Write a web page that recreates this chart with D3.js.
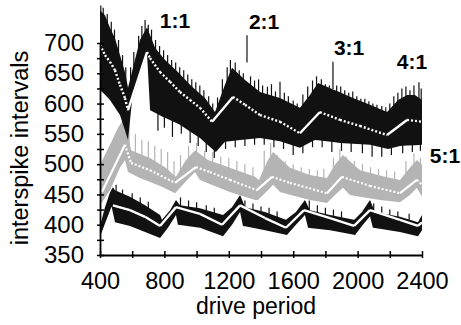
<!DOCTYPE html>
<html>
<head>
<meta charset="utf-8">
<script src="https://cdn.jsdelivr.net/npm/d3@7"></script>
<style>
  body { margin: 0; background: #fff; }
  text { font-family: Arial, "Liberation Sans", sans-serif; fill: #000; }
</style>
</head>
<body>
<div id="chart"></div>
<script>
// [drive period, interval] pairs
const topUpper = [[400,754],[431,746],[462,725],[493,708],[524,680],[555,652],[574,626],[617,672],[648,705],[692,726],[742,692],[804,672],[884,652],[959,631],[1052,609],[1114,586],[1176,631],[1220,659],[1301,639],[1394,619],[1518,609],[1642,593],[1704,614],[1754,634],[1860,622],[1971,609],[2077,598],[2183,586],[2251,606],[2307,614],[2356,614],[2400,606]];
const topLower = [[400,623],[462,606],[524,581],[555,556],[574,540],[599,605],[648,645],[692,683],[711,589],[791,578],[897,565],[1021,543],[1120,520],[1176,537],[1270,540],[1394,543],[1518,538],[1642,527],[1735,540],[1890,535],[2077,532],[2189,525],[2263,530],[2400,532]];
const topMid = [[400,697],[431,680],[462,669],[493,655],[524,631],[555,609],[574,589],[692,685],[711,675],[773,652],[835,636],[897,619],[959,606],[1021,593],[1096,570],[1226,611],[1301,598],[1394,581],[1518,570],[1642,551],[1766,586],[1890,573],[2015,563],[2183,548],[2307,573],[2400,570]];
const topSpikes = [[405,762],[420,758],[445,748],[470,735],[490,722],[515,705],[540,680],[560,660],[590,660],[610,685],[640,712],[660,728],[680,738],[700,730],[720,722],[745,705],[770,695],[795,688],[820,680],[845,672],[870,668],[895,660],[920,655],[945,648],[970,640],[995,635],[1020,630],[1045,622],[1075,612],[1100,600],[1130,610],[1160,640],[1190,660],[1210,672],[1240,668],[1265,655],[1290,650],[1313,713],[1335,645],[1360,638],[1385,640],[1410,630],[1440,628],[1465,632],[1490,620],[1518,636],[1545,618],[1570,612],[1600,605],[1625,600],[1660,615],[1690,628],[1720,638],[1745,645],[1775,640],[1800,632],[1825,630],[1847,669],[1870,630],[1895,628],[1920,622],[1945,618],[1970,620],[1995,612],[2020,608],[2045,608],[2070,604],[2095,600],[2120,598],[2150,596],[2175,594],[2200,600],[2225,612],[2250,618],[2275,625],[2300,628],[2325,622],[2350,630],[2381,635],[2395,625]];
const topDrops = [[760,555],[800,560],[850,545],[905,550],[960,535],[1010,530],[1060,520],[1110,510],[1180,525],[1240,528],[1300,530],[1360,532],[1420,532],[1480,528],[1540,525],[1600,515],[1660,518],[1720,528],[1780,528],[1840,520],[1900,522],[1960,520],[2030,518],[2090,512],[2150,512],[2210,515],[2280,518],[2340,520],[2390,522]];

const grayUpper = [[400,499],[462,532],[512,560],[543,573],[574,548],[593,523],[711,510],[804,495],[872,479],[934,507],[990,523],[1071,507],[1207,494],[1363,479],[1387,474],[1443,507],[1475,520],[1580,494],[1704,482],[1810,477],[1859,499],[1909,515],[2015,490],[2170,479],[2263,474],[2325,494],[2368,507],[2400,499]];
const grayLower = [[400,432],[462,457],[524,494],[555,507],[574,487],[648,477],[773,464],[866,452],[928,470],[990,487],[1021,474],[1207,454],[1363,441],[1381,441],[1443,457],[1475,466],[1518,454],[1704,441],[1810,436],[1859,449],[1909,461],[1952,449],[2139,441],[2263,437],[2325,449],[2368,461],[2400,446]];
const grayMid = [[412,454],[555,532],[593,502],[711,490],[866,469],[996,495],[1083,487],[1207,474],[1375,457],[1468,479],[1580,469],[1810,452],[1903,479],[2077,464],[2263,452],[2368,474],[2400,466]];
const graySpikes = [[580,565],[620,550],[660,540],[700,538],[740,530],[780,525],[820,520],[860,505],[900,515],[950,530],[1000,535],[1050,522],[1100,520],[1150,512],[1200,510],[1250,505],[1300,500],[1350,495],[1420,522],[1460,535],[1500,515],[1550,505],[1600,500],[1650,495],[1700,492],[1750,490],[1790,492],[1850,510],[1890,525],[1930,512],[1980,505],[2030,500],[2080,495],[2130,492],[2180,490],[2230,488],[2300,505],[2350,518],[2390,510]];

const botUpper = [[400,398],[430,428],[460,452],[480,462],[493,457],[586,446],[680,432],[773,416],[785,408],[835,424],[872,441],[897,432],[1021,427],[1164,416],[1220,429],[1270,449],[1301,429],[1425,421],[1555,408],[1617,421],[1673,441],[1704,424],[1829,416],[1978,408],[2027,421],[2077,441],[2108,421],[2263,413],[2375,404],[2400,416]];
const botLower = [[400,380],[440,408],[472,430],[493,404],[586,398],[680,388],[773,378],[822,395],[872,416],[884,400],[1021,395],[1164,381],[1220,400],[1270,421],[1288,398],[1425,391],[1561,383],[1617,400],[1673,416],[1692,395],[1829,391],[1984,383],[2033,400],[2077,414],[2095,395],[2263,388],[2375,381],[2400,391]];
const botMid = [[480,432],[586,424],[680,413],[773,398],[872,429],[1021,418],[1158,400],[1270,432],[1425,411],[1555,395],[1667,424],[1829,411],[1978,398],[2077,424],[2263,408],[2375,398],[2400,404]];
const botSpikes = [[500,466],[540,458],[600,452],[650,445],[700,438],[900,445],[950,440],[1000,437],[1060,432],[1110,428],[1300,440],[1350,435],[1400,430],[1450,428],[1500,422],[1700,440],[1750,432],[1800,428],[1850,425],[1900,422],[2100,435],[2150,430],[2200,425],[2250,422],[2320,418]];

const xTicks = [400, 800, 1200, 1600, 2000, 2400];
const yTicks = [350, 400, 450, 500, 550, 600, 650, 700];
const ratioLabels = [
  {text: '1:1', period: 866, value: 725},
  {text: '2:1', period: 1419, value: 723},
  {text: '3:1', period: 1947, value: 680},
  {text: '4:1', period: 2338, value: 657},
  {text: '5:1', period: 2543, value: 502},
];

const width = 461, height = 325;

const svg = d3.select('#chart').append('svg')
  .attr('width', width)
  .attr('height', height);

const x = d3.scaleLinear().domain([400, 2400]).range([100, 422]);
const y = d3.scaleLinear().domain([350, 700]).range([255, 43]);

// merge upper / lower edges onto one period grid so d3.area can fill between them
function band(upper, lower) {
  const ps = Array.from(new Set(upper.map(d => d[0]).concat(lower.map(d => d[0])))).sort((a, b) => a - b);
  const interp = (arr, p) => {
    for (let i = 1; i < arr.length; i++) {
      if (p <= arr[i][0]) {
        const a = arr[i - 1], b = arr[i];
        const t = (p - a[0]) / (b[0] - a[0] || 1);
        return a[1] + t * (b[1] - a[1]);
      }
    }
    return arr[arr.length - 1][1];
  };
  return ps.map(p => ({p: p, hi: interp(upper, p), lo: interp(lower, p)}));
}

const area = d3.area()
  .x(d => x(d.p))
  .y0(d => y(d.lo))
  .y1(d => y(d.hi));

const line = d3.line()
  .x(d => x(d[0]))
  .y(d => y(d[1]));

// thin vertical noise spikes; depth > 0 runs down from the tip, < 0 runs up
function drawSpikes(data, color, depth) {
  svg.append('g')
    .selectAll('line')
    .data(data)
    .enter()
    .append('line')
    .attr('x1', d => x(d[0]))
    .attr('x2', d => x(d[0]))
    .attr('y1', d => y(d[1]))
    .attr('y2', d => y(d[1] - depth))
    .attr('stroke', color)
    .attr('stroke-width', 1.2);
}

// white centre line: solid where it climbs, dotted where it falls
function drawMid(data, width, dotted) {
  for (let i = 1; i < data.length; i++) {
    const seg = [data[i - 1], data[i]];
    const rising = seg[1][1] > seg[0][1];
    svg.append('path')
      .attr('d', line(seg))
      .attr('fill', 'none')
      .attr('stroke', '#fff')
      .attr('stroke-width', width)
      .attr('stroke-dasharray', dotted && !rising ? '2,2' : null);
  }
}

// gray band
drawSpikes(graySpikes, '#b4b4b4', 35);
svg.append('path')
  .attr('d', area(band(grayUpper, grayLower)))
  .attr('fill', '#b4b4b4');
drawMid(grayMid, 2.2, true);

// top black band
drawSpikes(topSpikes, '#111', 45);
drawSpikes(topDrops, '#111', -40);
svg.append('path')
  .attr('d', area(band(topUpper, topLower)))
  .attr('fill', '#111');
drawMid(topMid, 2.4, true);

// bottom black band
drawSpikes(botSpikes, '#111', 25);
svg.append('path')
  .attr('d', area(band(botUpper, botLower)))
  .attr('fill', '#111');
drawMid(botMid, 2.4, false);

// axes
const xAxis = svg.append('g')
  .attr('transform', 'translate(0,255)')
  .call(d3.axisBottom(x)
    .tickValues(d3.range(400, 2401, 200))
    .tickFormat(d => xTicks.includes(d) ? d : '')
    .tickSizeOuter(0));
xAxis.select('.domain').attr('stroke-width', 1.8);
xAxis.selectAll('.tick line').attr('y1', -4).attr('y2', 3).attr('stroke-width', 1.5);
xAxis.selectAll('.tick text')
  .attr('y', 17)
  .style('font-size', '23.5px')
  .style('font-family', 'Arial, "Liberation Sans", sans-serif');

const yAxis = svg.append('g')
  .attr('transform', 'translate(100,0)')
  .call(d3.axisLeft(y)
    .tickValues(d3.range(350, 701, 25))
    .tickFormat(d => yTicks.includes(d) ? d : '')
    .tickSizeOuter(0));
yAxis.select('.domain').attr('stroke-width', 1.8);
yAxis.selectAll('.tick line').attr('x1', -3).attr('x2', 4).attr('stroke-width', 1.5);
yAxis.selectAll('.tick text')
  .attr('x', -16)
  .style('font-size', '24px')
  .style('font-family', 'Arial, "Liberation Sans", sans-serif');

// axis titles
svg.append('text')
  .attr('x', 256)
  .attr('y', 314)
  .attr('text-anchor', 'middle')
  .style('font-size', '23px')
  .text('drive period');

svg.append('text')
  .attr('transform', 'translate(28,148) rotate(-90)')
  .attr('text-anchor', 'middle')
  .style('font-size', '23.5px')
  .text('interspike intervals');

// mode-locking ratios
svg.selectAll('.ratio')
  .data(ratioLabels)
  .enter()
  .append('text')
  .attr('class', 'ratio')
  .attr('x', d => x(d.period))
  .attr('y', d => y(d.value))
  .attr('text-anchor', 'middle')
  .style('font-size', '21px')
  .style('font-weight', 'bold')
  .text(d => d.text);
</script>
</body>
</html>
